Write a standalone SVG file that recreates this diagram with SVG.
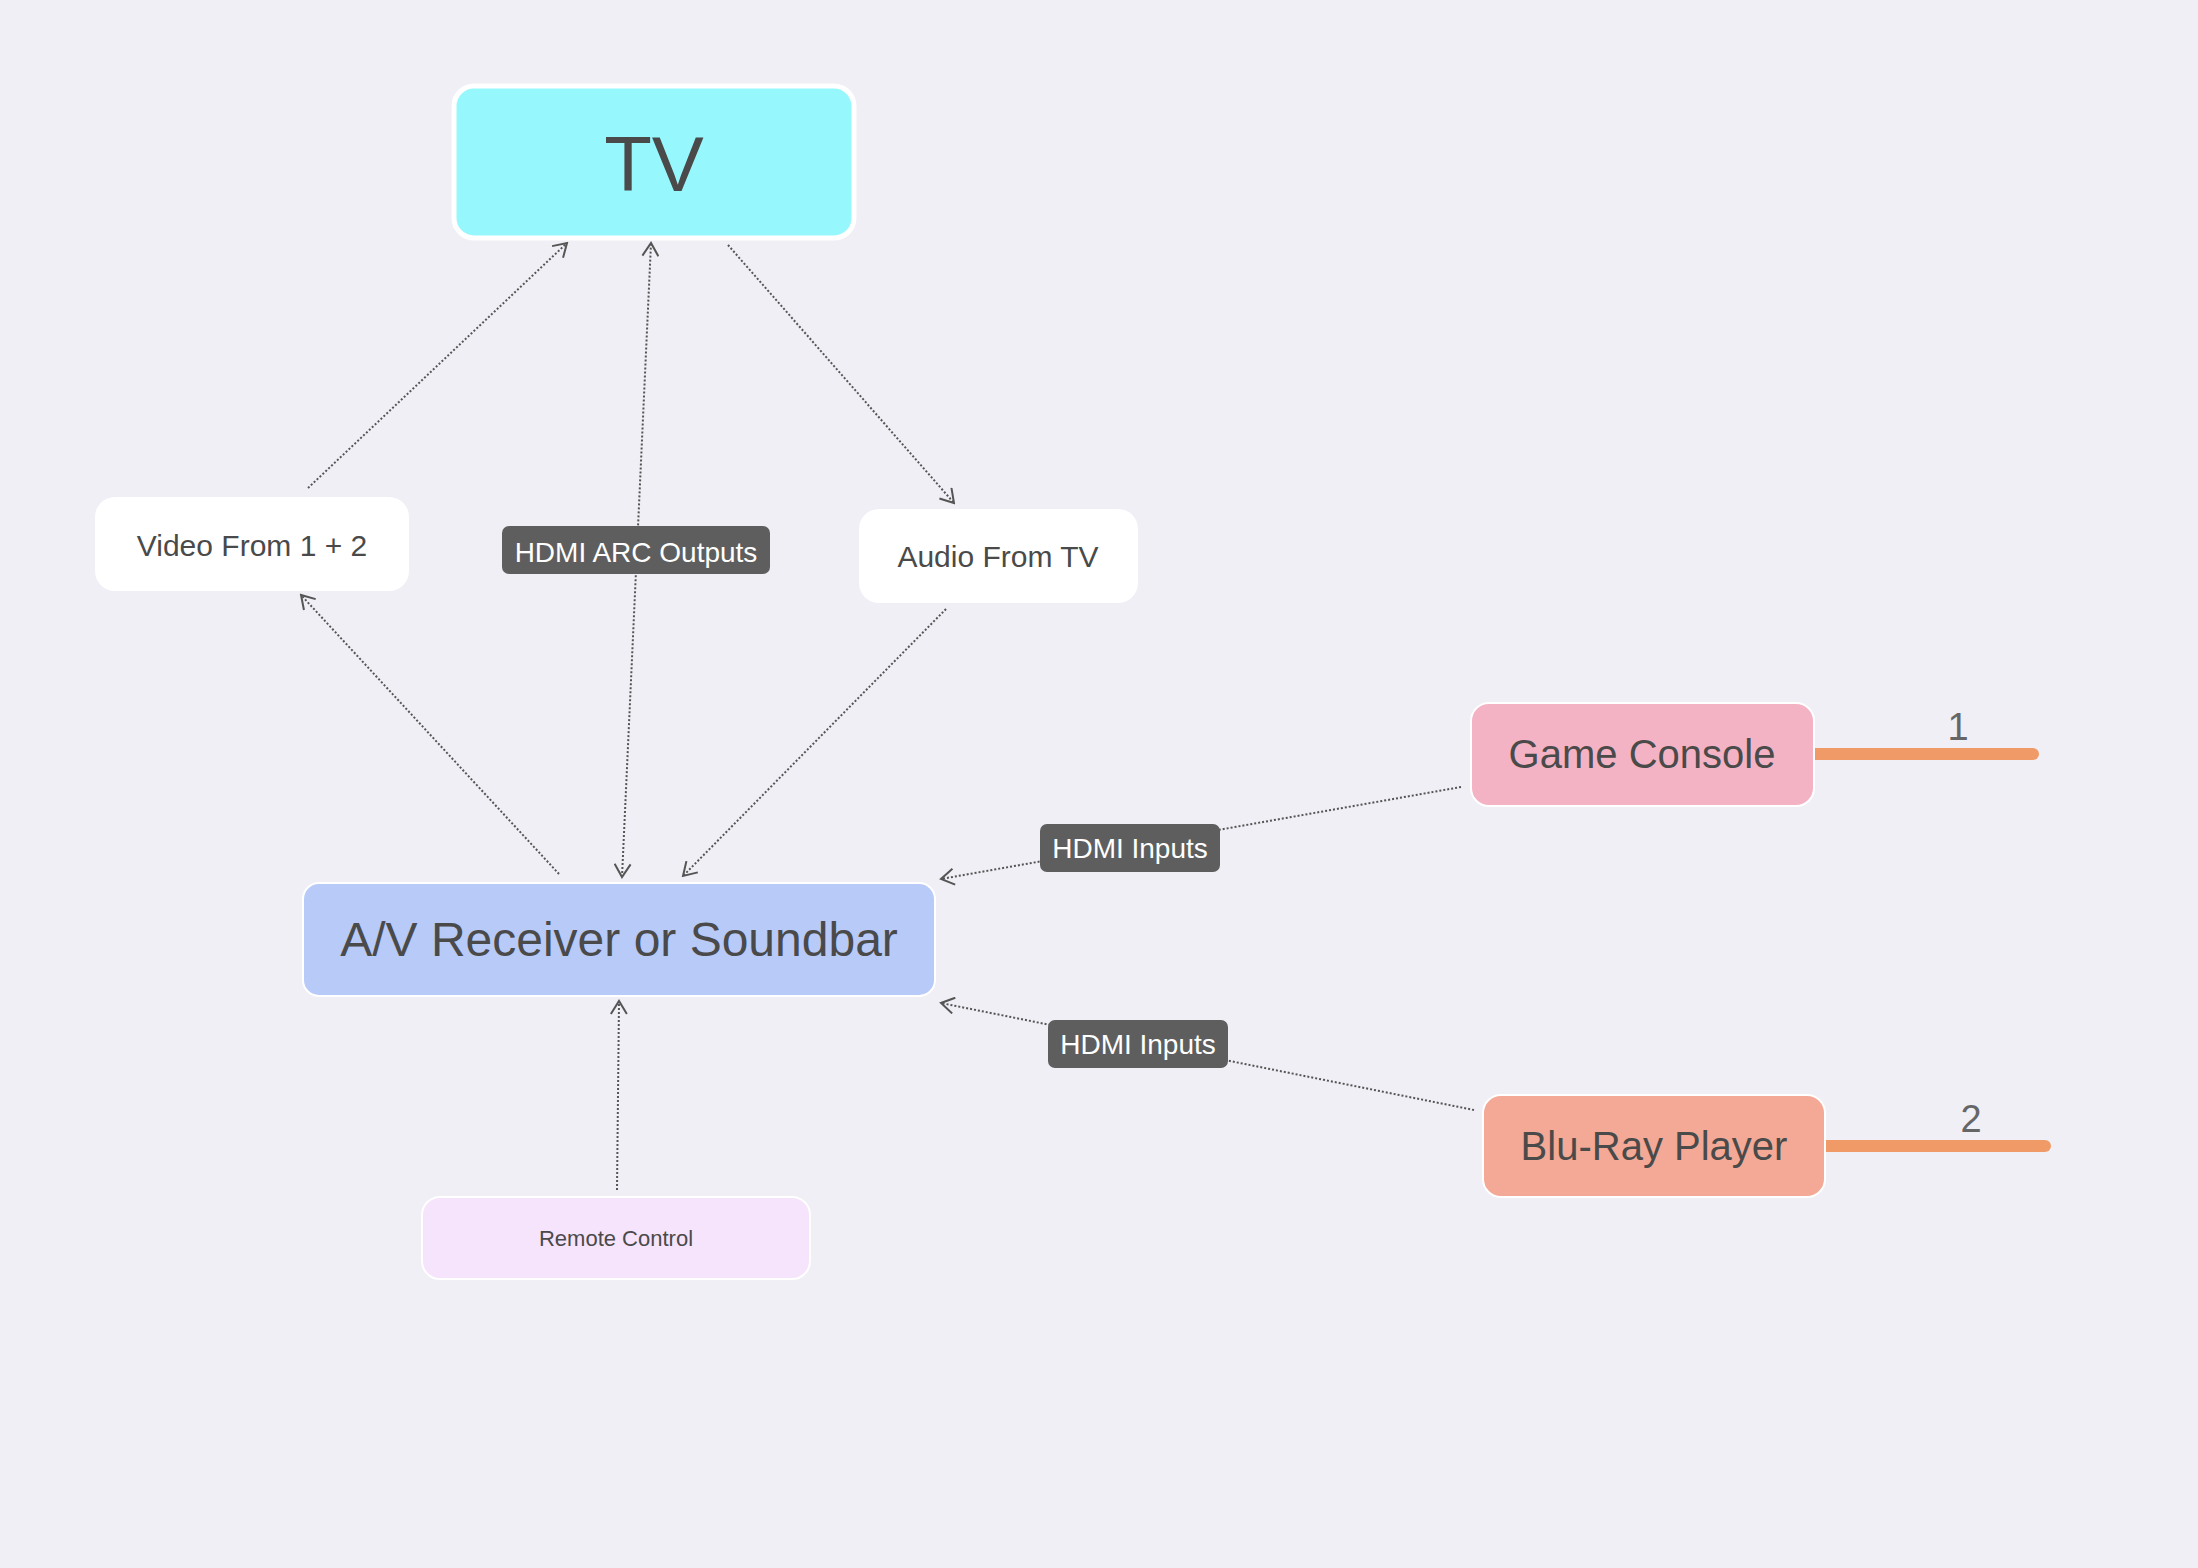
<svg xmlns="http://www.w3.org/2000/svg" width="2198" height="1568" viewBox="0 0 2198 1568">
<defs>
<style>
.t{font-family:"Liberation Sans",Arial,Helvetica,sans-serif;fill:#4a4a4a;text-anchor:middle}
.c{fill:none;stroke:#555;stroke-width:2;stroke-dasharray:2 2}
.lb{fill:#5e5e5e}
.lt{font-family:"Liberation Sans",Arial,Helvetica,sans-serif;fill:#fff;font-size:28px;text-anchor:middle}
.box{stroke:#fff;stroke-width:2}
.tag{stroke:#f09a68;stroke-width:12;stroke-linecap:round}
</style>
<marker id="ah" viewBox="0 0 16 18" refX="14" refY="9" markerWidth="16" markerHeight="18" markerUnits="userSpaceOnUse" orient="auto-start-reverse">
<path d="M1,1 L14,9 L1,17" fill="none" stroke="#555" stroke-width="2"/>
</marker>
</defs>
<rect width="2198" height="1568" fill="#efeff5"/>
<g id="connectors">
<line class="c" x1="308" y1="488" x2="567" y2="243" marker-end="url(#ah)"/>
<line class="c" x1="559" y1="874" x2="301" y2="595" marker-end="url(#ah)"/>
<line class="c" x1="622" y1="877" x2="651" y2="243" marker-start="url(#ah)" marker-end="url(#ah)"/>
<line class="c" x1="728" y1="245" x2="954" y2="503" marker-end="url(#ah)"/>
<line class="c" x1="946" y1="609" x2="683" y2="876" marker-end="url(#ah)"/>
<line class="c" x1="1461" y1="787" x2="941" y2="879" marker-end="url(#ah)"/>
<line class="c" x1="1474" y1="1110" x2="941" y2="1003" marker-end="url(#ah)"/>
<line class="c" x1="617" y1="1190" x2="619" y2="1001" marker-end="url(#ah)"/>
<g id="label-arc"><rect class="lb" x="502" y="526" width="268" height="48" rx="7"/><text class="lt" x="636" y="562">HDMI ARC Outputs</text></g>
<g id="label-in1"><rect class="lb" x="1040" y="824" width="180" height="48" rx="7"/><text class="lt" x="1130" y="858">HDMI Inputs</text></g>
<g id="label-in2"><rect class="lb" x="1048" y="1020" width="180" height="48" rx="7"/><text class="lt" x="1138" y="1054">HDMI Inputs</text></g>
</g>
<g id="tv"><rect x="454" y="86" width="400" height="152" rx="20" fill="#96f8fc" stroke="#fff" stroke-width="5"/><text class="t" x="654" y="191" font-size="78">TV</text></g>
<g id="video"><rect x="95" y="497" width="314" height="94" rx="20" fill="#fff"/><text class="t" x="252" y="556" font-size="30">Video From 1 + 2</text></g>
<g id="audio"><rect x="859" y="509" width="279" height="94" rx="20" fill="#fff"/><text class="t" x="998" y="567" font-size="30">Audio From TV</text></g>
<g id="av"><rect class="box" x="303" y="883" width="632" height="113" rx="16" fill="#b8caf8"/><text class="t" x="619" y="956" font-size="48">A/V Receiver or Soundbar</text></g>
<g id="game"><line class="tag" x1="1800" y1="754" x2="2033" y2="754"/><rect class="box" x="1471" y="703" width="343" height="103" rx="18" fill="#f4b3c4"/><text class="t" x="1642" y="768" font-size="40">Game Console</text><text x="1958" y="740" font-size="38" fill="#666" font-family="Liberation Sans,Arial,sans-serif" text-anchor="middle">1</text></g>
<g id="bluray"><line class="tag" x1="1812" y1="1146" x2="2045" y2="1146"/><rect class="box" x="1483" y="1095" width="342" height="102" rx="18" fill="#f3a996"/><text class="t" x="1654" y="1160" font-size="40">Blu-Ray Player</text><text x="1971" y="1132" font-size="38" fill="#666" font-family="Liberation Sans,Arial,sans-serif" text-anchor="middle">2</text></g>
<g id="remote"><rect class="box" x="422" y="1197" width="388" height="82" rx="18" fill="#f6e4fc"/><text class="t" x="616" y="1246" font-size="22">Remote Control</text></g>
</svg>
